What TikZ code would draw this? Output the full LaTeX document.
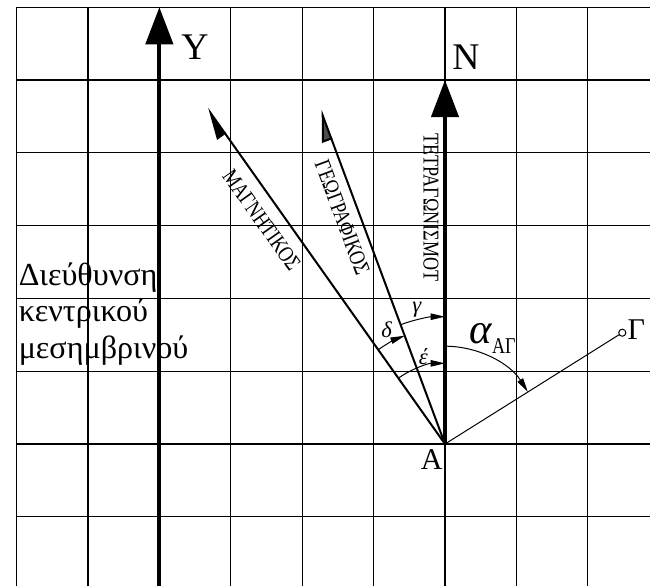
\documentclass[tikz,border=0pt]{standalone}
\usepackage{fontspec}
\setmainfont{Liberation Serif}
\usepackage{tikz}
\usetikzlibrary{arrows.meta, calc}

\begin{document}
\begin{tikzpicture}[
  x=1cm, y=1.0196cm,
  gridline/.style={line width=0.5pt, black},
  axis/.style={line width=1.6pt, -{Triangle[length=5.2mm, width=3.8mm]}},
  dirline/.style={line width=0.8pt},
  arcarr/.style={line width=0.4pt, -{Triangle[length=2mm, width=0.9mm]}},
  biglabel/.style={font=\fontsize{15}{15}\selectfont, inner sep=0pt},
  ptlabel/.style={font=\fontsize{12}{12}\selectfont, inner sep=0pt},
  anglabel/.style={font=\fontsize{9}{9}\selectfont\itshape, inner sep=0pt},
  linelabel/.style={font=\fontsize{9}{9}\selectfont, inner sep=0pt}
]
\useasboundingbox (-6.232,-1.951) rectangle (2.871,6.099);
\foreach \x in {-6,...,2} \draw[gridline] (\x,-1.951) -- (\x,6);
\foreach \y in {-1,...,6} \draw[gridline] (-6,\y) -- (2.871,\y);

\coordinate (A) at (0,0);
\coordinate (ybot) at (-4,-1.951);
\coordinate (ytop) at (-4,6);
\coordinate (ntop) at (0,5.0);
\coordinate (mag) at (-3.329,4.611);
\coordinate (geo) at (-1.741,4.588);
\node[circle, draw, inner sep=0pt, minimum size=1mm, line width=0.4pt] (G) at (2.483,1.529) {};

\draw[axis] (ybot) -- (ytop);
\draw[axis] (A) -- (ntop);
\draw[dirline, -{Triangle[harpoon, length=4mm, width=2.8mm]}] (A) -- (mag);
\draw[dirline, -{Triangle[harpoon, length=4mm, width=2.8mm, fill=black!70]}] (A) -- (geo);
\draw[line width=0.4pt] (A) -- (G);

\draw[arcarr] ([shift={(110.41:1.783cm)}]A) arc[start angle=110.41, end angle=90, radius=1.783cm];
\draw[arcarr] ([shift={(125.3:1.618cm)}]A) arc[start angle=125.3, end angle=110.41, radius=1.618cm];
\draw[arcarr] ([shift={(125.3:1.13cm)}]A) arc[start angle=125.3, end angle=90, radius=1.13cm];
\draw[arcarr] ([shift={(90:1.37cm)}]A) arc[start angle=90, end angle=32.1, radius=1.37cm];

\node[biglabel] (ylab) at (-3.50,5.457) {Y};
\node[biglabel] (nlab) at (0.294,5.316) {N};
\node[ptlabel] (alab) at (-0.186,-0.22) {Α};
\node[ptlabel] (glab) at (2.68,1.566) {Γ};
\node[anglabel] (gamma) at (-0.396,1.841) {γ};
\node[anglabel] (delta) at (-0.817,1.576) {δ};
\node[anglabel] (eps) at (-0.304,1.199) {έ};
\node[anchor=base west, inner sep=0pt, font=\fontsize{17}{17}\selectfont] (azlab) at (0.34,1.383)
  {\itshape α\upshape\raisebox{-4pt}{\scalebox{0.8}[1]{\fontsize{9}{9}\selectfont ΑΓ}}};

\node[linelabel, rotate=-54.70] (magtxt) at (-2.567,3.077) {\scalebox{0.8}[1]{ΜΑΓΝΗΤΙΚΟΣ}};
\node[linelabel, rotate=-69.59] (geotxt) at (-1.438,3.111) {\scalebox{0.8}[1]{ΓΕΩΓΡΑΦΙΚΟΣ}};
\node[linelabel, rotate=-90] (tettxt) at (-0.196,3.249) {\scalebox{0.8}[1]{ΤΕΤΡΑΓΩΝΙΣΜΟΤ}};

\node[anchor=base west, align=left, inner sep=0pt, font=\fontsize{12.8}{14.6}\selectfont] (dirtxt) at (-5.976,1.177)
  {Διεύθυνση\\κεντρικού\\μεσημβρινού};
\end{tikzpicture}
\end{document}
